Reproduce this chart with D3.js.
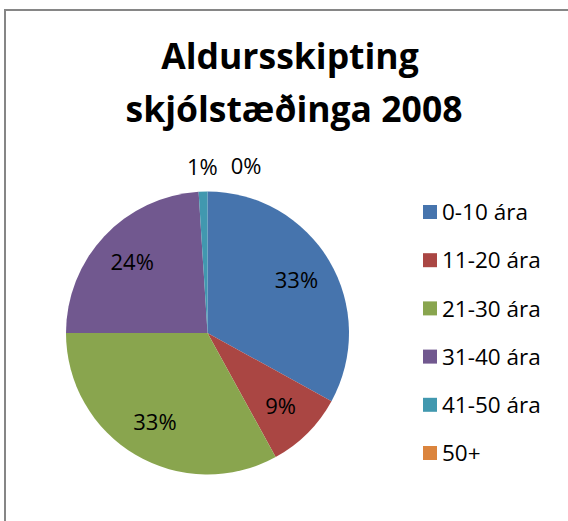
<!DOCTYPE html>
<meta charset="utf-8">
<script src="https://d3js.org/d3.v7.min.js"></script>
<style>
  body { margin: 0; background: #fff; }
  svg { display: block; font-family: 'Open Sans', 'DejaVu Sans', sans-serif; }
</style>
<body>
<div id="chart"></div>
<script>

// data
var categories = ["0-10 ára", "11-20 ára", "21-30 ára", "31-40 ára", "41-50 ára", "50+"];
var values = [33, 9, 33, 24, 1, 0];
var titleLines = ["Aldursskipting", "skjólstæðinga 2008"];

var colors = ["#4674AD", "#AA4643", "#89A54E", "#71588F", "#4198AF", "#DB843D"];

var width = 568, height = 521;

var svg = d3.select("#chart")
  .append("svg")
    .attr("width", width)
    .attr("height", height);

// chart area border (right and bottom run off the picture)
svg.append("rect")
  .attr("x", 5)
  .attr("y", 10)
  .attr("width", width)
  .attr("height", height)
  .attr("fill", "#fff")
  .attr("stroke", "#868686")
  .attr("stroke-width", 2);

// title
svg.append("text")
  .attr("y", 69)
  .attr("text-anchor", "middle")
  .style("font-weight", "bold")
  .style("font-size", "35.5px")
  .selectAll("tspan")
  .data(titleLines)
  .enter()
  .append("tspan")
    .attr("x", function (d, i) { return i ? 294 : 290; })
    .attr("dy", function (d, i) { return i ? 53 : 0; })
    .text(function (d) { return d; });

// pie
var cx = 207.5, cy = 333, radius = 141.5;

var pie = d3.pie()
  .sort(null)
  .value(function (d) { return d; });

var arcs = pie(values);

var arc = d3.arc()
  .innerRadius(0)
  .outerRadius(radius);

var g = svg.append("g")
  .attr("transform", "translate(" + cx + "," + cy + ")");

g.selectAll("path")
  .data(arcs)
  .enter()
  .append("path")
    .attr("d", arc)
    .attr("fill", function (d, i) { return colors[i]; });

// data labels: inside for the big slices, outside for the tiny ones
var innerLabel = d3.arc().innerRadius(radius * 0.73).outerRadius(radius * 0.73);
var outerLabel = d3.arc().innerRadius(radius + 25).outerRadius(radius + 25);
var total = d3.sum(values);

var prev = null;
arcs.forEach(function (d, i) {
  var pct = Math.round(d.value / total * 100);
  var small = d.value / total < 0.02;
  var p = small ? outerLabel.centroid(d) : innerLabel.centroid(d);
  var t = g.append("text")
    .attr("text-anchor", "middle")
    .attr("dy", "0.36em")
    .style("font-size", "22px")
    .attr("fill", "#000")
    .text(pct + "%");
  var w = t.node().getComputedTextLength();
  if (small) {
    if (prev && p[0] - w / 2 < prev.right + 13) p[0] = prev.right + 13 + w / 2;
    prev = { right: p[0] + w / 2 };
  }
  t.attr("x", p[0]).attr("y", p[1]);
});

// legend
var legend = svg.append("g")
  .attr("transform", "translate(423,205)");

var item = legend.selectAll("g")
  .data(categories)
  .enter()
  .append("g")
    .attr("transform", function (d, i) { return "translate(0," + (i * 48.2) + ")"; });

item.append("rect")
  .attr("width", 14)
  .attr("height", 14)
  .attr("fill", function (d, i) { return colors[i]; });

item.append("text")
  .attr("x", 19)
  .attr("y", 7)
  .attr("dy", "0.36em")
  .style("font-size", "22.5px")
  .attr("fill", "#000")
  .text(function (d) { return d; });

</script>
</body>
